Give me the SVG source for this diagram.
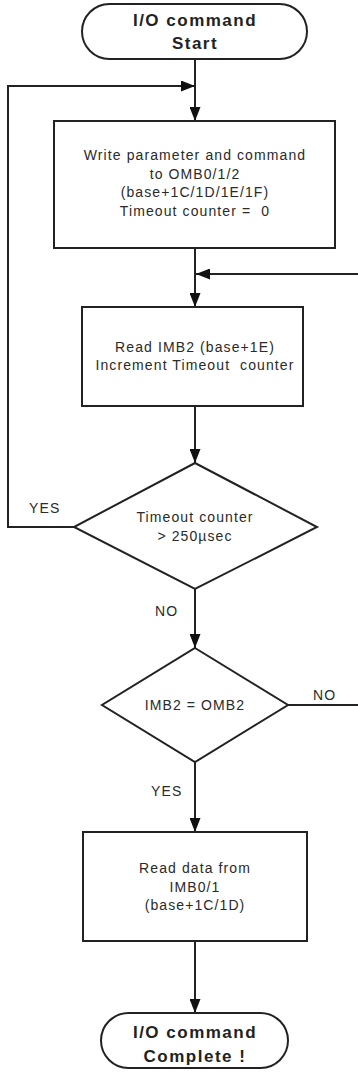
<svg xmlns="http://www.w3.org/2000/svg" width="358" height="1074" viewBox="0 0 358 1074">
<style>
.shape{fill:#fff;stroke:#222;stroke-width:2}
.line{fill:none;stroke:#222;stroke-width:2}
.t{font-family:"Liberation Sans",Arial,sans-serif;font-size:14px;fill:#2a2a2a;letter-spacing:1.1px;text-anchor:middle}
.tb{font-family:"Liberation Sans",Arial,sans-serif;font-size:17px;font-weight:bold;fill:#222;letter-spacing:1.5px;text-anchor:middle}
.lbl{font-family:"Liberation Sans",Arial,sans-serif;font-size:14px;fill:#2a2a2a;letter-spacing:1.1px}
</style>
<defs>
<marker id="arr" markerUnits="userSpaceOnUse" markerWidth="14" markerHeight="11" refX="14" refY="5.5" orient="auto">
<path d="M0,0 L14,5.5 L0,11 z" fill="#111"/>
</marker>
</defs>
<g id="connectors">
<line class="line" x1="195" y1="59" x2="195" y2="121" marker-end="url(#arr)"/>
<polyline class="line" points="74,527 8,527 8,86 195,86" marker-end="url(#arr)"/>
<line class="line" x1="195" y1="248" x2="195" y2="307" marker-end="url(#arr)"/>
<line class="line" x1="358" y1="274" x2="196" y2="274" marker-end="url(#arr)"/>
<line class="line" x1="195" y1="406" x2="195" y2="463" marker-end="url(#arr)"/>
<line class="line" x1="195" y1="589" x2="195" y2="648" marker-end="url(#arr)"/>
<line class="line" x1="288" y1="705" x2="358" y2="705"/>
<line class="line" x1="195" y1="762" x2="195" y2="832" marker-end="url(#arr)"/>
<line class="line" x1="195" y1="941" x2="195" y2="1013" marker-end="url(#arr)"/>
<text class="lbl" x="29" y="513">YES</text>
<text class="lbl" x="155" y="616">NO</text>
<text class="lbl" x="313" y="700">NO</text>
<text class="lbl" x="151" y="796">YES</text>
</g>
<g id="start">
<rect class="shape" x="82" y="4" width="225" height="55" rx="27.5" ry="27.5"/>
<text class="tb" x="195" y="26">I/O command</text>
<text class="tb" x="195" y="49">Start</text>
</g>
<g id="write">
<rect class="shape" x="54" y="121" width="281" height="127"/>
<text class="t" x="195" y="160">Write parameter and command</text>
<text class="t" x="195" y="179">to OMB0/1/2</text>
<text class="t" x="195" y="197">(base+1C/1D/1E/1F)</text>
<text class="t" x="195" y="216" xml:space="preserve">Timeout counter =  0</text>
</g>
<g id="read-imb2">
<rect class="shape" x="82" y="307" width="221" height="99"/>
<text class="t" x="195" y="352">Read IMB2 (base+1E)</text>
<text class="t" x="195" y="370" xml:space="preserve">Increment Timeout  counter</text>
</g>
<g id="timeout">
<polygon class="shape" points="195,463 317,527 195,589 74,527"/>
<text class="t" x="195" y="522">Timeout counter</text>
<text class="t" x="195" y="541">&gt; 250µsec</text>
</g>
<g id="compare">
<polygon class="shape" points="195,648 288,705 195,762 102,705"/>
<text class="t" x="195" y="710">IMB2 = OMB2</text>
</g>
<g id="read-data">
<rect class="shape" x="83" y="832" width="224" height="109"/>
<text class="t" x="195" y="873">Read data from</text>
<text class="t" x="195" y="892">IMB0/1</text>
<text class="t" x="195" y="910">(base+1C/1D)</text>
</g>
<g id="complete">
<rect class="shape" x="101" y="1013" width="187" height="55" rx="27.5" ry="27.5"/>
<text class="tb" x="195" y="1038">I/O command</text>
<text class="tb" x="195" y="1062">Complete !</text>
</g>
</svg>
